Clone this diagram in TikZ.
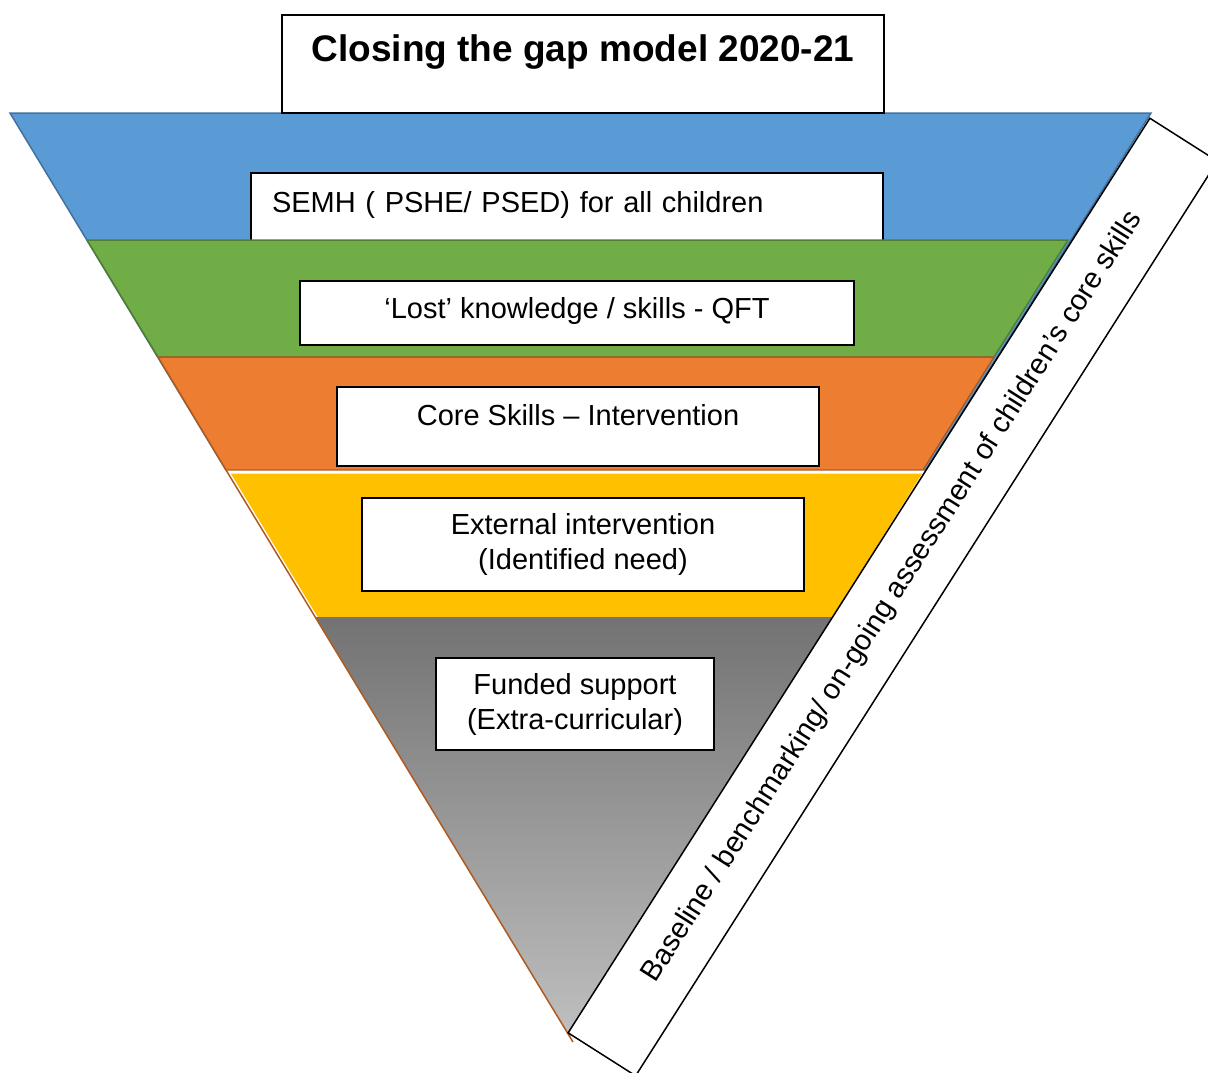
\documentclass[tikz,border=0pt]{standalone}
\usepackage{fontspec}
\setmainfont{Liberation Sans}
\usepackage{xcolor}
\usepackage{tikz}
\definecolor{layerblue}{HTML}{5B9BD5}
\definecolor{layergreen}{HTML}{70AD47}
\definecolor{layerorange}{HTML}{ED7D31}
\definecolor{layeryellow}{HTML}{FFC000}
\definecolor{edgeblue}{HTML}{41719C}
\definecolor{edgegreen}{HTML}{507E32}
\definecolor{edgeorange}{HTML}{AE5A21}

\begin{document}
\begin{tikzpicture}[x=0.5pt, y=-0.5pt,
        box/.style={draw, line width=1pt, fill=white, inner ysep=0pt, font=\fontsize{14.5}{17.5}\selectfont},
        layer/.style={line width=0.75pt}]
        \clip (0,0) rectangle (1208,1072);
        \fill[white] (0,0) rectangle (1208,1072);

        % Blue layer, its box sits under the green one
        \filldraw[layer, fill=layerblue, draw=edgeblue] (10,113) -- (1151,113) -- (926,470) -- (226,470) -- cycle;
        \node[box, anchor=north west, text width=295pt, align=left, inner xsep=10.5pt, text height=19.5pt, text depth=19.5pt] (semh) at (250,172) {SEMH ( PSHE/ PSED) for all children};

        % Green layer
        \filldraw[layer, fill=layergreen, draw=edgegreen] (87,240) -- (1068,240) -- (994,357) -- (158,357) -- cycle;
        \node[box, anchor=north, minimum width=277pt, text height=18.5pt, text depth=13.5pt] (lost) at (577,280) {‘Lost’ knowledge / skills - QFT};

        % Orange layer
        \filldraw[layer, fill=layerorange, draw=edgeorange] (158,357) -- (994,357) -- (923,470) -- (226,470) -- cycle;
        \node[box, anchor=north, minimum width=241pt, text height=19pt, text depth=20.5pt] (core) at (578,386) {Core Skills – Intervention};

        % Yellow layer
        \filldraw[fill=layeryellow, draw=white, line width=1.5pt] (228,472) -- (925,472) -- (833,619) -- (317,619) -- cycle;
        \node[box, align=center, minimum width=221pt, minimum height=46.5pt] (external) at (583,544.5) {External intervention\\(Identified need)};

        % Grey tip
        \shade[top color=black!55, bottom color=black!25] (315,617) -- (834,617) -- (570,1037) -- cycle;
        \draw[edgeorange, line width=0.75pt] (226,470) -- (573,1042);
        \node[box, align=center, minimum width=139pt, minimum height=46pt] (funded) at (575,704) {Funded support\\(Extra-curricular)};

        % Title
        \node[box, anchor=north, minimum width=301pt, text height=23pt, text depth=26pt, font=\fontsize{18.5}{22}\selectfont\bfseries] (title) at (583,14) {Closing the gap model 2020-21};

        % Band along the right side
        \node[draw, line width=0.75pt, fill=white, rotate=57.54, minimum width=542pt, minimum height=40pt, inner sep=0pt, font=\fontsize{14.5}{17.5}\selectfont] (band) at (892.75,597) {Baseline / benchmarking/ on-going assessment of children’s core skills};
    \end{tikzpicture}
\end{document}
